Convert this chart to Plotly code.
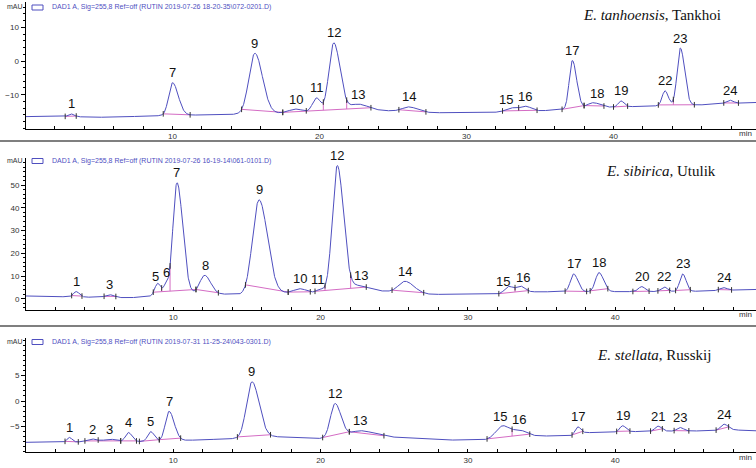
import numpy as np
import plotly.graph_objects as go

W, H = 756, 468

# ---------------- DATA ----------------
# Panel 1: E. tanhoensis, Tankhoi
p1_ids  = ["1", "7", "9", "10", "11", "12", "13", "14", "15", "16", "17", "18", "19", "22", "23", "24"]
p1_rt   = [3.1, 10.0, 15.6, 18.4, 19.8, 20.97, 22.6, 26.1, 33.0, 34.0, 37.2, 38.6, 40.5, 43.5, 44.55, 47.9]
p1_h    = [0.8, 9.7, 18.0, 1.2, 4.4, 20.6, 2.2, 1.4, 1.1, 1.5, 14.4, 1.6, 1.8, 4.4, 17.0, 1.0]
p1_sig  = [0.18, 0.26, 0.4, 0.5, 0.28, 0.33, 0.6, 0.45, 0.35, 0.4, 0.21, 0.4, 0.18, 0.19, 0.22, 0.25]
p1_tail = [1.2, 1.5, 1.3, 1.0, 1.0, 1.3, 1.2, 1.2, 1.0, 1.0, 1.4, 1.2, 1.2, 1.2, 1.3, 1.0]
p1_base_t = [0, 3, 5, 8, 9.3, 12, 14.5, 17.5, 20, 24, 25, 27.5, 29, 32, 35, 36.5, 40, 43, 46, 49.7]
p1_base_v = [-16.5, -16.5, -16.7, -16.4, -16.2, -16.0, -15.8, -15.5, -15.4, -14.8, -14.8, -15.3, -15.4, -15.2,
             -14.8, -14.4, -13.7, -13.3, -13.0, -12.3]
p1_groups = [[2.7, 3.45], [9.37, 11.2], [14.7, 17.5], [17.5, 19.1, 20.26, 21.85, 23.5], [25.4, 27.24],
             [32.45, 33.55, 34.8], [36.5, 38.0], [38.0, 39.35], [40.0, 40.96], [43.05, 44.07, 45.5], [47.5, 48.5]]

# Panel 2: E. sibirica, Utulik
p2_ids  = ["1", "3", "5", "6", "7", "8", "9", "10", "11", "12", "13", "14", "15", "16", "17", "18", "20", "22", "23", "24"]
p2_rt   = [3.4, 5.7, 8.94, 9.48, 10.25, 12.13, 15.82, 18.6, 19.96, 21.13, 22.6, 25.75, 32.77, 33.55, 37.18, 38.9,
           41.8, 43.33, 44.58, 47.36]
p2_h    = [2.4, 1.2, 5.6, 4.2, 49.5, 8.3, 41.8, 2.0, 1.3, 55.6, 2.3, 5.0, 3.0, 2.9, 7.8, 8.4, 2.2, 2.0, 7.7, 1.2]
p2_sig  = [0.18, 0.3, 0.2, 0.17, 0.28, 0.34, 0.44, 0.45, 0.25, 0.33, 0.5, 0.45, 0.28, 0.3, 0.22, 0.24, 0.22,
           0.22, 0.2, 0.25]
p2_tail = [1.2, 1.0, 1.0, 1.0, 1.4, 1.2, 1.3, 1.0, 1.0, 1.3, 1.2, 1.3, 1.0, 1.1, 1.3, 1.3, 1.0, 1.0, 1.2, 1.0]
p2_base_t = [0, 3, 5, 7, 8.5, 11.5, 14, 14.9, 17.5, 19.3, 20, 23.5, 24.8, 27.5, 32, 34.5, 36.5, 40, 45, 49.7]
p2_base_v = [1.2, 0.8, 0.6, 0.4, 1.0, 2.0, 2.0, 1.4, 2.4, 2.4, 2.8, 3.6, 3.1, 1.9, 2.0, 3.0, 3.1, 3.1, 3.2, 4.1]
p2_groups = [[3.1, 3.8], [5.3, 6.1], [8.64, 9.21, 9.78, 11.54], [11.54, 13.06], [14.9, 17.8], [17.8, 19.3],
             [19.62, 20.3, 22.04, 23.1], [24.85, 27.0], [32.1, 33.2, 34.1], [36.6, 38.06], [38.3, 39.5],
             [41.2, 42.3], [42.9, 43.7], [44.1, 45.1], [47.0, 47.9]]

# Panel 3: E. stellata, Russkij
p3_ids  = ["1", "2", "3", "4", "5", "7", "9", "12", "13", "15", "16", "17", "19", "21", "23", "24"]
p3_rt   = [2.94, 4.5, 5.7, 6.95, 8.46, 9.71, 15.34, 20.98, 22.7, 32.36, 33.5, 37.45, 40.5, 42.9, 44.4, 47.37]
p3_h    = [0.9, 0.55, 0.5, 1.8, 1.9, 5.8, 11.0, 6.7, 1.2, 2.5, 1.3, 1.5, 1.2, 1.0, 0.7, 1.2]
p3_sig  = [0.15, 0.35, 0.4, 0.2, 0.2, 0.25, 0.37, 0.31, 0.7, 0.45, 0.4, 0.18, 0.18, 0.2, 0.2, 0.22]
p3_tail = [1.2, 1.0, 1.0, 1.2, 1.2, 1.4, 1.3, 1.3, 1.2, 1.1, 1.2, 1.2, 1.3, 1.2, 1.2, 1.3]
p3_base_t = [0, 2.5, 7.5, 9, 11.5, 14.3, 16.5, 20, 22, 24, 26, 28, 31, 34.6, 37, 38, 40, 43, 46, 48, 49.7]
p3_base_v = [-8.15, -8.1, -8.0, -7.9, -7.7, -7.4, -7.0, -7.4, -7.1, -7.0, -7.3, -7.7, -7.7, -6.9, -6.9,
             -6.25, -6.1, -5.95, -5.9, -5.7, -5.9]
p3_groups = [[2.65, 3.55], [4.0, 4.9, 6.43], [6.43, 7.5], [7.7, 9.05], [9.05, 10.5], [14.35, 16.6],
             [20.14, 21.95], [21.95, 24.3], [31.3, 33.0, 34.2], [37.07, 37.8], [40.1, 41.0], [42.4, 43.2],
             [44.0, 45.0], [46.85, 47.7]]

titles = [("E. tanhoensis", ", Tankhoi"), ("E. sibirica,", " Utulik"), ("E. stellata", ", Russkij")]
legends = ["DAD1 A, Sig=255,8 Ref=off (RUTIN 2019-07-26 18-20-35\\072-0201.D)",
           "DAD1 A, Sig=255,8 Ref=off (RUTIN 2019-07-26 16-19-14\\061-0101.D)",
           "DAD1 A, Sig=255,8 Ref=off (RUTIN 2019-07-31 11-25-24\\043-0301.D)"]
y_ticks = [[-10, 0, 10], [0, 10, 20, 30, 40, 50], [-5, 0, 5]]
x_ticks = [10, 20, 30, 40]

# label time adjustments (label placed off the apex)
label_dt = [{"15": -0.3, "18": 0.3},
            {"11": -0.15, "13": 0.15, "15": -0.4, "16": 0.2, "8": 0.05, "5": -0.15, "6": 0.05},
            {"15": -0.15}]

# ---------------- LAYOUT GEOMETRY (pixels) ----------------
geom = [
    dict(x0=25.5, pxm=14.7, yz=61.0, pxu=3.37, top=2.0, bot=128.5, title_x=581, title_y=15.5, leg_y=7.5,
         minor_y=2),
    dict(x0=26.0, pxm=14.73, yz=298.7, pxu=2.27, top=158.0, bot=309.5, title_x=604, title_y=171, leg_y=161,
         minor_y=2),
    dict(x0=26.0, pxm=14.73, yz=401.0, pxu=5.07, top=338.0, bot=452.0, title_x=595, title_y=355, leg_y=342,
         minor_y=1),
]

panels = [
    (p1_ids, p1_rt, p1_h, p1_sig, p1_tail, p1_base_t, p1_base_v, p1_groups),
    (p2_ids, p2_rt, p2_h, p2_sig, p2_tail, p2_base_t, p2_base_v, p2_groups),
    (p3_ids, p3_rt, p3_h, p3_sig, p3_tail, p3_base_t, p3_base_v, p3_groups),
]

TRACE = "#4f4fbf"
BASE = "#d46cc4"

fig = go.Figure()
annotations = []
shapes = []
t = np.linspace(0, 49.8, 4000)


def make_signal(rt, h, sig, tail, bt, bv):
    s = np.interp(t, bt, bv)
    for r, a, w, k in zip(rt, h, sig, tail):
        ww = np.where(t < r, w, w * k)
        s = s + a * np.exp(-0.5 * ((t - r) / ww) ** 2)
    return s


for i, (ids, rt, h, sig, tail, bt, bv, groups) in enumerate(panels):
    g = geom[i]
    sfx = "" if i == 0 else str(i + 1)
    xa, ya = "x" + sfx, "y" + sfx
    sig_curve = make_signal(rt, h, sig, tail, bt, bv)
    sval = lambda tt: float(np.interp(tt, t, sig_curve))

    # integration baselines
    bx, by, tx, ty = [], [], [], []
    for grp in groups:
        t0, t1 = grp[0], grp[-1]
        v0, v1 = sval(t0), sval(t1)
        bx += [t0, t1, None]
        by += [v0, v1, None]
        for tt in grp[1:-1]:
            vb = v0 + (v1 - v0) * (tt - t0) / (t1 - t0)
            bx += [tt, tt, None]
            by += [vb, sval(tt), None]
        for tt in grp:
            tx.append(tt)
            ty.append(sval(tt))
    fig.add_trace(go.Scatter(x=bx, y=by, mode="lines", line=dict(color=BASE, width=1),
                             xaxis=xa, yaxis=ya, showlegend=False, hoverinfo="skip"))
    fig.add_trace(go.Scatter(x=t, y=sig_curve, mode="lines", line=dict(color=TRACE, width=1),
                             xaxis=xa, yaxis=ya, showlegend=False))
    fig.add_trace(go.Scatter(x=tx, y=ty, mode="markers",
                             marker=dict(symbol="line-ns", size=4, line=dict(color="#333", width=1)),
                             xaxis=xa, yaxis=ya, showlegend=False, hoverinfo="skip"))

    # axes
    x_lo = 0.0
    x_hi = (W - g["x0"]) / g["pxm"]
    y_lo = (g["yz"] - g["bot"]) / g["pxu"]
    y_hi = (g["yz"] - g["top"]) / g["pxu"]
    xdom = [g["x0"] / W, 1.0]
    ydom = [1 - g["bot"] / H, 1 - g["top"] / H]
    fig.layout["xaxis" + sfx] = dict(
        domain=xdom, range=[x_lo, x_hi], anchor=ya, showline=True, linecolor="black", linewidth=1,
        ticks="inside", ticklen=3, tickcolor="black", tickvals=x_ticks, ticktext=[str(v) for v in x_ticks],
        tickfont=dict(family="Arial, Liberation Sans", size=8, color="#333"),
        minor=dict(dtick=2, tick0=0, ticks="inside", ticklen=3, tickcolor="black"),
        showgrid=False, zeroline=False, fixedrange=True)
    fig.layout["yaxis" + sfx] = dict(
        domain=ydom, range=[y_lo, y_hi], anchor=xa, showline=True, linecolor="black", linewidth=1,
        ticks="outside", ticklen=4, tickcolor="black", tickvals=y_ticks[i],
        tickfont=dict(family="Arial, Liberation Sans", size=8, color="#333"),
        minor=dict(dtick=g["minor_y"], ticks="outside", ticklen=2, tickcolor="black"),
        showgrid=False, zeroline=False, fixedrange=True)

    # peak labels
    for pid, r in zip(ids, rt):
        lt = r + label_dt[i].get(pid, 0.0)
        annotations.append(dict(x=lt, y=sval(lt), xref=xa, yref=ya,
                                text=pid, showarrow=False, yanchor="middle", yshift=10,
                                font=dict(family="Arial, Liberation Sans", size=13, color="#111")))

    annotations.append(dict(x=15 / W, y=1 - (g["leg_y"] - 0.5) / H, xref="paper", yref="paper", text="mAU",
                            showarrow=False, xanchor="center", yanchor="middle",
                            font=dict(family="Arial, Liberation Sans", size=7, color="#333")))
    annotations.append(dict(x=50 / W, y=1 - g["leg_y"] / H, xref="paper", yref="paper", text=legends[i],
                            showarrow=False, xanchor="left", yanchor="middle",
                            font=dict(family="Arial, Liberation Sans", size=7, color=TRACE)))
    shapes.append(dict(type="rect", xref="paper", yref="paper", x0=32 / W, x1=43 / W,
                       y0=1 - (g["leg_y"] + 2.5) / H, y1=1 - (g["leg_y"] - 2.5) / H,
                       line=dict(color=TRACE, width=1), fillcolor="rgba(0,0,0,0)"))
    it, rest = titles[i]
    annotations.append(dict(x=g["title_x"] / W, y=1 - g["title_y"] / H, xref="paper", yref="paper",
                            text="<i>" + it + "</i>" + rest, showarrow=False, xanchor="left", yanchor="middle",
                            font=dict(family="Liberation Serif, Times New Roman", size=15, color="#111")))
    annotations.append(dict(x=745 / W, y=1 - (g["bot"] + 5) / H, xref="paper", yref="paper", text="min",
                            showarrow=False, xanchor="center", yanchor="middle",
                            font=dict(family="Arial, Liberation Sans", size=8, color="#333")))

for py in (141, 326):
    shapes.append(dict(type="line", xref="paper", yref="paper", x0=0, x1=1, y0=1 - py / H, y1=1 - py / H,
                       line=dict(color="#555", width=1.5)))

fig.update_layout(width=W, height=H, margin=dict(l=0, r=0, t=0, b=0), paper_bgcolor="white",
                  plot_bgcolor="white", showlegend=False, annotations=annotations, shapes=shapes)

fig.write_html("out.html", config={"displayModeBar": False},
               post_script="document.body.style.margin='0';")
